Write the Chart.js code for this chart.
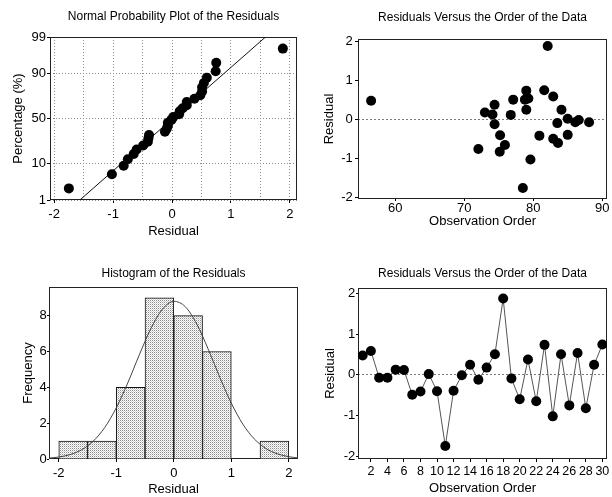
<!DOCTYPE html>
<html><head><meta charset="utf-8">
<script src="https://cdn.jsdelivr.net/npm/chart.js@4.4.1/dist/chart.umd.min.js"></script>
<style>
html,body{margin:0;padding:0;background:#fff;width:612px;height:497px;overflow:hidden;}
canvas{position:absolute;}
</style></head><body>
<canvas id="tl" width="306" height="248" style="left:0;top:0"></canvas>
<canvas id="tr" width="306" height="248" style="left:306px;top:0"></canvas>
<canvas id="bl" width="306" height="249" style="left:0;top:248px"></canvas>
<canvas id="br" width="306" height="249" style="left:306px;top:248px"></canvas>
<script>
// ---------------- data ----------------
const observationOrder = [1,2,3,4,5,6,7,8,9,10,11,12,13,14,15,16,17,18,19,20,21,22,23,24,25,26,27,28,29,30];
const residuals = [0.48, 0.59, -0.07, -0.07, 0.13, 0.12, -0.49, -0.41, 0.02, -0.40, -1.75, -0.39, -0.01, 0.25, -0.12, 0.18, 0.51, 1.88, -0.09, -0.60, 0.38, -0.65, 0.74, -1.02, 0.51, -0.75, 0.54, -0.82, 0.25, 0.75];
const fittedValues = [56.5, 82.9, 88.1, 86.1, 74.1, 76.75, 82.9, 80.9, 85.0, 75.2, 78.5, 85.0, 86.6, 79.0, 74.4, 73.0, 78.8, 82.1, 83.5, 83.6, 74.4, 75.9, 79.0, 79.6, 77.1, 72.05, 79.3, 75.15, 84.1, 81.6];
const sortedResiduals = [-1.75, -1.02, -0.82, -0.75, -0.65, -0.60, -0.49, -0.41, -0.40, -0.39, -0.12, -0.09, -0.07, -0.07, -0.01, 0.02, 0.12, 0.13, 0.18, 0.25, 0.25, 0.38, 0.48, 0.51, 0.51, 0.54, 0.59, 0.74, 0.75, 1.88];
const normalPercent = [2.3, 5.6, 8.9, 12.2, 15.5, 18.8, 22.0, 25.3, 28.6, 31.9, 35.2, 38.5, 41.8, 45.1, 48.4, 51.6, 54.9, 58.2, 61.5, 64.8, 68.1, 71.4, 74.7, 78.0, 81.3, 84.5, 87.8, 91.1, 94.4, 97.7];
const fitLineResidual = [-1.563, 1.586];
const fitLinePercent = [1, 99];
const probabilityTicks = [1, 10, 50, 90, 99];
const residualGridTicks = [-2, -1.5, -1, -0.5, 0, 0.5, 1, 1.5, 2];
const residualTicks = [-2, -1, 0, 1, 2];
const fittedTicks = [60, 70, 80, 90];
const orderTicks = [2,4,6,8,10,12,14,16,18,20,22,24,26,28,30];
const histBinCenters = [-1.75, -1.25, -0.75, -0.25, 0.25, 0.75, 1.25, 1.75];
const histCounts = [1, 1, 4, 9, 8, 6, 0, 1];
const frequencyTicks = [0, 2, 4, 6, 8];
const curveResidual = [-2.17, -2.0, -1.8, -1.6, -1.4, -1.2, -1.0, -0.8, -0.6, -0.4, -0.2, 0.0, 0.2, 0.4, 0.6, 0.8, 1.0, 1.2, 1.4, 1.6, 1.8, 2.0, 2.16];
const curveFrequency = [0.05, 0.11, 0.25, 0.52, 1.0, 1.76, 2.86, 4.25, 5.81, 7.27, 8.35, 8.80, 8.50, 7.53, 6.12, 4.56, 3.12, 1.95, 1.12, 0.59, 0.29, 0.13, 0.06];

// ---------------- setup ----------------
Chart.defaults.font.family = "'Liberation Sans', Arial, Helvetica, sans-serif";
Chart.defaults.color = '#000';
Chart.defaults.animation = false;
Chart.defaults.plugins.legend.display = false;
Chart.defaults.plugins.tooltip.enabled = false;

function probit(p) {
  const a = [-3.969683028665376e+01, 2.209460984245205e+02, -2.759285104469687e+02, 1.383577518672690e+02, -3.066479806614716e+01, 2.506628277459239e+00];
  const b = [-5.447609879822406e+01, 1.615858368580409e+02, -1.556989798598866e+02, 6.680131188771972e+01, -1.328068155288572e+01];
  const c = [-7.784894002430293e-03, -3.223964580411365e-01, -2.400758277161838e+00, -2.549732539343734e+00, 4.374664141464968e+00, 2.938163982698783e+00];
  const d = [7.784695709041462e-03, 3.224671290700398e-01, 2.445134137142996e+00, 3.754408661907416e+00];
  const pl = 0.02425, ph = 1 - pl;
  let q, r;
  if (p < pl) { q = Math.sqrt(-2 * Math.log(p)); return (((((c[0]*q+c[1])*q+c[2])*q+c[3])*q+c[4])*q+c[5]) / ((((d[0]*q+d[1])*q+d[2])*q+d[3])*q+1); }
  if (p <= ph) { q = p - 0.5; r = q*q; return (((((a[0]*r+a[1])*r+a[2])*r+a[3])*r+a[4])*r+a[5])*q / (((((b[0]*r+b[1])*r+b[2])*r+b[3])*r+b[4])*r+1); }
  q = Math.sqrt(-2 * Math.log(1 - p)); return -(((((c[0]*q+c[1])*q+c[2])*q+c[3])*q+c[4])*q+c[5]) / ((((d[0]*q+d[1])*q+d[2])*q+d[3])*q+1);
}

class ProbabilityScale extends Chart.LinearScale {
  determineDataLimits() { this.min = this.options.min; this.max = this.options.max; }
  buildTicks() { return probabilityTicks.map(v => ({value: v})); }
  configure() {
    super.configure();
    this._zStart = probit(this.min / 100);
    this._zEnd = probit(this.max / 100);
  }
  getPixelForValue(value) {
    return this.getPixelForDecimal((probit(value / 100) - this._zStart) / (this._zEnd - this._zStart));
  }
  getValueForPixel(pixel) { return this.min + (this.max - this.min) * this.getDecimalForPixel(pixel); }
}
ProbabilityScale.id = 'probability';
ProbabilityScale.defaults = {};
Chart.register(ProbabilityScale);

const framePlugin = {
  id: 'frame',
  beforeDatasetsDraw(chart) {
    const {ctx, chartArea: a} = chart;
    ctx.save();
    ctx.strokeStyle = '#222';
    ctx.lineWidth = 1;
    ctx.strokeRect(Math.round(a.left) + 0.5, Math.round(a.top) + 0.5, Math.round(a.right - a.left) - 1, Math.round(a.bottom - a.top) - 1);
    ctx.restore();
  }
};

const TICK_FONT = {size: 13, lineHeight: 1.2};
const TITLE_FONT = {size: 12, lineHeight: 1.2, weight: 'normal'};
const AXIS_TITLE_FONT = {size: 13, lineHeight: 1.2};
const NONE = 'rgba(0,0,0,0)';
const POINT_R = 5;

function fixX(h) { return s => { s.height = h; s.paddingLeft = 0; s.paddingRight = 0; }; }
function fixY(w) { return s => { s.width = w; s.paddingTop = 0; s.paddingBottom = 0; }; }
function setTicks(values) { return s => { s.ticks = values.map(v => ({value: v})); }; }

function chartTitle(text, top, bottom) {
  return {display: true, text, fullSize: false, font: TITLE_FONT, color: '#000', padding: {top, bottom}};
}

// ---------- Normal probability plot ----------
new Chart(document.getElementById('tl'), {
  type: 'scatter',
  data: {
    datasets: [
      { data: sortedResiduals.map((x, i) => ({x, y: normalPercent[i]})), showLine: false,
        pointRadius: POINT_R, pointBackgroundColor: '#000', pointBorderColor: '#000', pointBorderWidth: 0 },
      { data: fitLineResidual.map((x, i) => ({x, y: fitLinePercent[i]})), showLine: true,
        pointRadius: 0, borderColor: '#111', borderWidth: 1 }
    ]
  },
  options: {
    responsive: false,
    layout: {padding: {left: 0, right: 9, top: 0, bottom: 0}},
    plugins: { title: chartTitle('Normal Probability Plot of the Residuals', 9.8, 12.8) },
    scales: {
      x: {
        type: 'linear', min: -2.07, max: 2.12,
        afterBuildTicks: setTicks(residualGridTicks), afterFit: fixX(48),
        ticks: {callback: v => Number.isInteger(v) ? String(v) : '', padding: 4, font: TICK_FONT, color: '#000', maxRotation: 0, autoSkip: false},
        grid: {color: '#8a8a8a', lineWidth: 1, tickLength: 3, tickColor: c => Number.isInteger(c.tick && c.tick.value) ? '#000' : NONE, borderDash: [1, 2]},
        border: {display: false, dash: [1, 2]},
        title: {display: true, text: 'Residual', font: AXIS_TITLE_FONT, color: '#000', padding: {top: 0, bottom: 8.5}}
      },
      y: {
        type: 'probability', min: 1, max: 99, afterFit: fixY(50),
        ticks: {callback: v => String(v), padding: 1, font: TICK_FONT, color: '#000', autoSkip: false},
        grid: {color: '#8a8a8a', lineWidth: 1, tickLength: 3, tickColor: '#000', borderDash: [1, 2]},
        border: {display: false, dash: [1, 2]},
        title: {display: true, text: 'Percentage (%)', font: AXIS_TITLE_FONT, color: '#000', padding: {top: 10.5, bottom: 0}}
      }
    }
  },
  plugins: [framePlugin]
});

// ---------- Residuals vs fitted (top right) ----------
new Chart(document.getElementById('tr'), {
  type: 'scatter',
  data: {
    datasets: [
      { data: fittedValues.map((x, i) => ({x, y: residuals[i]})), showLine: false,
        pointRadius: POINT_R, pointBackgroundColor: '#000', pointBorderColor: '#000', pointBorderWidth: 0 }
    ]
  },
  options: {
    responsive: false,
    layout: {padding: {left: 0, right: 5, top: 0, bottom: 0}},
    plugins: { title: chartTitle('Residuals Versus the Order of the Data', 10.1, 14.5) },
    scales: {
      x: {
        type: 'linear', min: 54.6, max: 90.7,
        afterBuildTicks: setTicks(fittedTicks), afterFit: fixX(49),
        ticks: {padding: 0, font: TICK_FONT, color: '#000', maxRotation: 0, autoSkip: false},
        grid: {drawOnChartArea: false, tickLength: 2, tickColor: '#000'},
        border: {display: false},
        title: {display: true, text: 'Observation Order', font: AXIS_TITLE_FONT, color: '#000', padding: {top: 0, bottom: 18.5}}
      },
      y: {
        type: 'linear', min: -2.03, max: 2.06,
        afterBuildTicks: setTicks(residualTicks), afterFit: fixY(52),
        ticks: {padding: 2.3, font: TICK_FONT, color: '#000', autoSkip: false},
        grid: {color: c => (c.tick && c.tick.value === 0) ? '#7a7a7a' : NONE, tickLength: 3, tickColor: '#000', borderDash: [2, 2]},
        border: {display: false, dash: [2, 2]},
        title: {display: true, text: 'Residual', font: AXIS_TITLE_FONT, color: '#000', padding: {top: 15.5, bottom: 0}}
      }
    }
  },
  plugins: [framePlugin]
});

// ---------- Histogram ----------
const blCanvas = document.getElementById('bl');
function stipple(ctx) {
  const c = document.createElement('canvas');
  c.width = 2; c.height = 2;
  const g = c.getContext('2d');
  g.fillStyle = '#ffffff'; g.fillRect(0, 0, 2, 2);
  g.fillStyle = '#8a8a8a'; g.fillRect(0, 0, 1, 1);
  g.fillStyle = '#d0d0d0'; g.fillRect(1, 1, 1, 1);
  return ctx.createPattern(c, 'repeat');
}
new Chart(blCanvas, {
  type: 'bar',
  data: {
    datasets: [
      { type: 'bar', data: histBinCenters.map((x, i) => ({x, y: histCounts[i]})),
        backgroundColor: stipple(blCanvas.getContext('2d')), borderColor: '#111', borderWidth: 1,
        barPercentage: 1, categoryPercentage: 1, order: 2 },
      { type: 'line', data: curveResidual.map((x, i) => ({x, y: curveFrequency[i]})),
        borderColor: '#444', borderWidth: 1, pointRadius: 0, fill: false,
        cubicInterpolationMode: 'monotone', order: 1 }
    ]
  },
  options: {
    responsive: false,
    layout: {padding: {left: 0, right: 8, top: 0, bottom: 0}},
    plugins: { title: chartTitle('Histogram of the Residuals', 18.1, 6.5) },
    scales: {
      x: {
        type: 'linear', offset: false, min: -2.17, max: 2.16,
        afterBuildTicks: setTicks(residualTicks), afterFit: fixX(38),
        ticks: {padding: 3.5, font: TICK_FONT, color: '#000', maxRotation: 0, autoSkip: false},
        grid: {drawOnChartArea: false, offset: false, tickLength: 3, tickColor: '#000'},
        border: {display: false},
        title: {display: true, text: 'Residual', font: AXIS_TITLE_FONT, color: '#000', padding: {top: 0, bottom: 0}}
      },
      y: {
        type: 'linear', min: 0, max: 9.6,
        afterBuildTicks: setTicks(frequencyTicks), afterFit: fixY(49),
        ticks: {padding: 0.3, font: TICK_FONT, color: '#000', autoSkip: false},
        grid: {drawOnChartArea: false, tickLength: 2, tickColor: '#000'},
        border: {display: false},
        title: {display: true, text: 'Frequency', font: AXIS_TITLE_FONT, color: '#000', padding: {top: 20.5, bottom: 0}}
      }
    }
  },
  plugins: [framePlugin]
});

// ---------- Residuals vs order (bottom right) ----------
new Chart(document.getElementById('br'), {
  type: 'line',
  data: {
    datasets: [
      { data: observationOrder.map((x, i) => ({x, y: residuals[i]})),
        borderColor: '#555', borderWidth: 1, tension: 0, fill: false,
        pointRadius: POINT_R, pointBackgroundColor: '#000', pointBorderColor: '#000', pointBorderWidth: 0 }
    ]
  },
  options: {
    responsive: false,
    layout: {padding: {left: 0, right: 2, top: 0, bottom: 0}},
    plugins: { title: chartTitle('Residuals Versus the Order of the Data', 18.1, 7.5) },
    scales: {
      x: {
        type: 'linear', min: 0.44, max: 30.56,
        afterBuildTicks: setTicks(orderTicks), afterFit: fixX(38),
        ticks: {padding: 1.9, font: {size: 12.5, lineHeight: 1.2}, color: '#000', maxRotation: 0, autoSkip: false},
        grid: {drawOnChartArea: false, tickLength: 3, tickColor: '#000'},
        border: {display: false},
        title: {display: true, text: 'Observation Order', font: AXIS_TITLE_FONT, color: '#000', padding: {top: 0, bottom: 0.9}}
      },
      y: {
        type: 'linear', min: -2.07, max: 2.14,
        afterBuildTicks: setTicks(residualTicks), afterFit: fixY(52),
        ticks: {padding: 0.7, font: TICK_FONT, color: '#000', autoSkip: false},
        grid: {color: c => (c.tick && c.tick.value === 0) ? '#7a7a7a' : NONE, tickLength: 2, tickColor: '#000', borderDash: [2, 2]},
        border: {display: false, dash: [2, 2]},
        title: {display: true, text: 'Residual', font: AXIS_TITLE_FONT, color: '#000', padding: {top: 16.2, bottom: 0}}
      }
    }
  },
  plugins: [framePlugin]
});
</script>
</body></html>
